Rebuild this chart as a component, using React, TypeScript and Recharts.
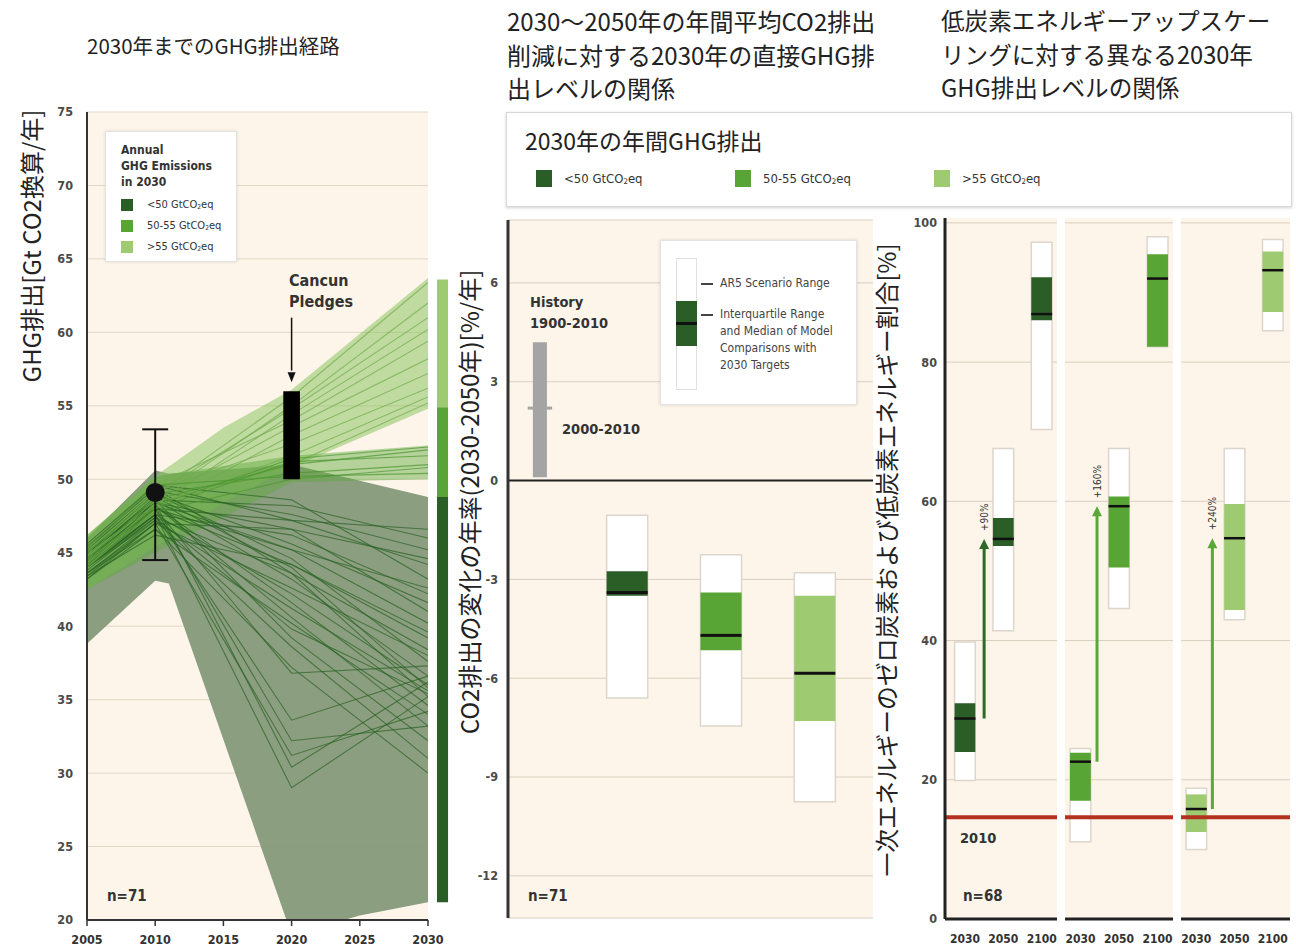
import React from 'react';
import {
  ComposedChart,
  Line,
  Area,
  Scatter,
  ErrorBar,
  XAxis,
  YAxis,
  CartesianGrid,
  ReferenceArea,
  ReferenceLine,
  ReferenceDot,
} from 'recharts';

const CJK = "'Noto Sans CJK JP', 'Noto Sans', sans-serif";
const NARROW = "'Liberation Sans Narrow', 'DejaVu Sans Condensed', 'Open Sans', sans-serif";

const DARK = '#2b5d27';
const MID = '#58a535';
const LIGHT = '#9ecb72';
const CREAM = '#fdf5ea';
const GRID = '#e2d7c5';
const TICK = { fontSize: 12.5, fill: '#4a4a4a', fontWeight: 700, fontFamily: NARROW };

// ---------- Left panel: GHG emission pathways to 2030 (Gt CO2eq / yr)
const pathYears = [2005, 2010, 2020, 2030];

const pathsBelow50 = [
  [44.6, 48.6, 48.2, 46.0],
  [45.2, 49.2, 47.6, 45.2],
  [44.0, 48.0, 47.2, 44.2],
  [45.6, 49.6, 48.6, 43.2],
  [44.2, 47.6, 46.2, 42.2],
  [43.6, 47.0, 46.6, 41.0],
  [45.0, 48.4, 45.2, 40.2],
  [44.6, 48.0, 44.2, 39.2],
  [44.0, 47.4, 43.6, 38.4],
  [43.2, 47.0, 42.6, 38.0],
  [45.0, 49.0, 44.6, 37.6],
  [44.6, 48.6, 43.2, 36.6],
  [44.0, 47.6, 42.2, 36.0],
  [43.6, 47.2, 41.2, 35.6],
  [45.4, 49.4, 43.6, 35.2],
  [44.2, 48.2, 41.6, 34.6],
  [43.2, 46.6, 40.2, 34.0],
  [44.6, 48.2, 40.6, 33.2],
  [45.0, 48.6, 39.2, 32.2],
  [44.0, 47.2, 38.6, 31.0],
  [43.6, 46.6, 37.2, 30.0],
  [44.6, 48.0, 36.8, 37.3],
  [44.0, 47.6, 29.0, 35.2],
  [45.0, 48.4, 30.4, 36.2],
  [43.4, 47.0, 31.2, 34.2],
  [44.4, 48.0, 32.2, 33.2],
  [44.0, 47.6, 33.6, 36.6],
  [45.0, 49.0, 45.6, 41.6],
  [44.4, 48.4, 46.6, 44.6],
  [43.4, 46.2, 44.2, 39.6],
  [45.2, 49.6, 47.2, 46.6],
  [44.0, 48.0, 45.2, 42.6],
  [44.8, 48.8, 44.0, 35.8],
  [43.8, 47.4, 39.8, 35.4],
];

const paths50to55 = [
  [44.6, 48.6, 51.0, 52.0],
  [45.0, 49.0, 50.4, 51.0],
  [44.2, 48.2, 51.4, 52.2],
  [45.4, 49.6, 50.2, 50.4],
  [44.6, 48.0, 51.2, 51.6],
  [44.0, 47.8, 50.0, 50.8],
];

const pathsAbove55 = [
  [45.0, 49.0, 55.6, 63.4],
  [44.6, 48.6, 55.0, 62.0],
  [44.2, 48.2, 54.4, 60.2],
  [45.2, 49.6, 54.0, 59.4],
  [44.6, 48.6, 53.6, 58.2],
  [44.0, 48.0, 53.0, 57.2],
  [45.0, 49.2, 52.4, 56.2],
  [44.4, 48.2, 51.6, 55.6],
  [44.0, 48.4, 51.0, 55.2],
  [44.8, 49.0, 54.8, 61.0],
];

// [year, low, high] of each scenario envelope
const envelopeBelow50 = [
  [2005, 38.8, 46.0],
  [2010, 43.1, 50.6],
  [2011, 42.9, 50.4],
  [2020, 19.0, 51.0],
  [2025, 20.3, 49.9],
  [2030, 21.2, 48.8],
];
const envelope50to55 = [
  [2005, 42.5, 46.2],
  [2010, 45.0, 50.2],
  [2020, 49.8, 51.6],
  [2030, 50.0, 52.3],
];
const envelopeAbove55 = [
  [2005, 42.5, 46.2],
  [2010, 45.4, 50.2],
  [2015, 48.4, 53.5],
  [2020, 50.8, 56.1],
  [2030, 54.8, 63.7],
];

const emissions2010 = { year: 2010, value: 49.1, low: 44.5, high: 53.4 };
const cancunPledges = { year: 2020, low: 50, high: 56 };
const classes2030 = [
  { low: 54.9, high: 63.6, colour: LIGHT },
  { low: 48.8, high: 54.9, colour: MID },
  { low: 21.2, high: 48.8, colour: DARK },
];

const legendClasses = [
  { label: '<50', colour: DARK },
  { label: '50-55', colour: MID },
  { label: '>55', colour: LIGHT },
];

// ---------- Middle panel: annual CO2 change rate 2030-2050 (%/yr)
const rateBoxes = [
  { min: -6.6, q1: -3.5, median: -3.4, q3: -2.75, max: -1.05 },
  { min: -7.45, q1: -5.15, median: -4.7, q3: -3.4, max: -2.25 },
  { min: -9.75, q1: -7.3, median: -5.85, q3: -3.5, max: -2.8 },
];
const historicalRate = { low: 0.1, high: 4.2, recent: 2.2 };

// ---------- Right panel: low-carbon share of primary energy (%)
const horizons = ['2030', '2050', '2100'];
const sharesBelow50 = [
  { min: 19.9, q1: 24.0, median: 28.8, q3: 31.0, max: 39.8 },
  { min: 41.4, q1: 53.6, median: 54.6, q3: 57.6, max: 67.6 },
  { min: 70.3, q1: 86.0, median: 86.9, q3: 92.2, max: 97.2 },
];
const shares50to55 = [
  { min: 11.1, q1: 17.0, median: 22.6, q3: 23.9, max: 24.5 },
  { min: 44.6, q1: 50.5, median: 59.3, q3: 60.7, max: 67.6 },
  { min: 82.2, q1: 82.2, median: 92.0, q3: 95.5, max: 98.0 },
];
const sharesAbove55 = [
  { min: 10.0, q1: 12.5, median: 15.8, q3: 17.9, max: 18.8 },
  { min: 43.0, q1: 44.4, median: 54.7, q3: 59.6, max: 67.6 },
  { min: 84.5, q1: 87.2, median: 93.2, q3: 95.9, max: 97.6 },
];
const shareChanges = ['+90%', '+160%', '+240%'];
const share2010 = 14.6;

// ---------- helpers
const envelopeRows = (env: number[][]) =>
  env.map(([year, low, high]) => ({ year, range: [low, high] }));
const pathRows = (values: number[]) =>
  values.map((value, i) => ({ year: pathYears[i], value }));

const medianShape = (width: number, thickness: number) => (props: any) => (
  <rect
    x={props.cx - width / 2}
    y={props.cy - thickness / 2}
    width={width}
    height={thickness}
    fill="#111"
  />
);

const GtCO2 = ({ label }: { label: string }) => (
  <span>
    {label} GtCO
    <sub style={{ fontSize: '0.6em', verticalAlign: '-0.15em' }}>2</sub>
    eq
  </span>
);

function PathwayChart() {
  const point = [
    {
      year: emissions2010.year,
      value: emissions2010.value,
      err: [emissions2010.value - emissions2010.low, emissions2010.high - emissions2010.value],
    },
  ];
  return (
    <ComposedChart width={460} height={951} margin={{ top: 112, right: 32, bottom: 0, left: 27 }}>
      <CartesianGrid vertical={false} stroke={GRID} fill={CREAM} fillOpacity={1} />
      <XAxis
        type="number"
        dataKey="year"
        domain={[2005, 2030]}
        ticks={[2005, 2010, 2015, 2020, 2025, 2030]}
        allowDataOverflow
        height={31}
        axisLine={{ stroke: '#333', strokeWidth: 2 }}
        tickLine={{ stroke: '#333', strokeWidth: 1.5 }}
        tickSize={6}
        tickMargin={9}
        tick={{ ...TICK, fill: '#333' }}
      />
      <YAxis
        type="number"
        domain={[20, 75]}
        ticks={[20, 25, 30, 35, 40, 45, 50, 55, 60, 65, 70, 75]}
        allowDataOverflow
        width={60}
        axisLine={{ stroke: '#333', strokeWidth: 2 }}
        tickLine={false}
        tickSize={0}
        tickMargin={14}
        tick={TICK}
      />
      <Area data={envelopeRows(envelopeBelow50)} dataKey="range" type="linear" stroke="none"
        fill="#86997a" fillOpacity={0.95} isAnimationActive={false} />
      <Area data={envelopeRows(envelopeAbove55)} dataKey="range" type="linear" stroke="none"
        fill="#8dc460" fillOpacity={0.55} isAnimationActive={false} />
      <Area data={envelopeRows(envelope50to55)} dataKey="range" type="linear" stroke="none"
        fill="#5aa83a" fillOpacity={0.45} isAnimationActive={false} />
      {pathsBelow50.map((p, i) => (
        <Line key={`b${i}`} data={pathRows(p)} dataKey="value" type="linear" stroke="#2a6324"
          strokeOpacity={0.7} strokeWidth={1.1} dot={false} activeDot={false} isAnimationActive={false} />
      ))}
      {pathsAbove55.map((p, i) => (
        <Line key={`a${i}`} data={pathRows(p)} dataKey="value" type="linear" stroke="#72aa4e"
          strokeOpacity={0.7} strokeWidth={1.1} dot={false} activeDot={false} isAnimationActive={false} />
      ))}
      {paths50to55.map((p, i) => (
        <Line key={`m${i}`} data={pathRows(p)} dataKey="value" type="linear" stroke="#4a962e"
          strokeOpacity={0.7} strokeWidth={1.1} dot={false} activeDot={false} isAnimationActive={false} />
      ))}
      <ReferenceArea
        x1={cancunPledges.year - 0.61}
        x2={cancunPledges.year + 0.61}
        y1={cancunPledges.low}
        y2={cancunPledges.high}
        fill="#000"
        fillOpacity={1}
        stroke="none"
        zIndex={700}
      />
      <ReferenceLine
        segment={[{ x: cancunPledges.year, y: 61 }, { x: cancunPledges.year, y: 57.4 }]}
        stroke="#111"
        strokeWidth={1.5}
      />
      <ReferenceDot
        x={cancunPledges.year}
        y={cancunPledges.high + 0.6}
        r={4}
        shape={(p: any) => (
          <polygon points={`${p.cx},${p.cy} ${p.cx - 4},${p.cy - 10} ${p.cx + 4},${p.cy - 10}`} fill="#111" />
        )}
      />
      <Scatter data={point} dataKey="value" isAnimationActive={false}
        shape={(p: any) => <circle cx={p.cx} cy={p.cy} r={9.5} fill="#111" />}>
        <ErrorBar dataKey="err" direction="y" width={13} stroke="#111" strokeWidth={2} />
      </Scatter>
      {classes2030.map((c, i) => (
        <ReferenceArea key={i} x1={2030.66} x2={2031.47} y1={c.low} y2={c.high}
          fill={c.colour} fillOpacity={1} stroke="none" ifOverflow="visible" />
      ))}
    </ComposedChart>
  );
}

const HISTORY_X = 0.07;

function RateChart() {
  const medians = rateBoxes.map((b, i) => ({ pos: i + 1, median: b.median }));
  return (
    <ComposedChart width={423} height={951} margin={{ top: 220, right: 0, bottom: 33, left: 0 }}>
      <CartesianGrid vertical={false} stroke="#d9cfbf" fill={CREAM} fillOpacity={1} />
      <XAxis type="number" dataKey="pos" domain={[-0.27, 3.62]} hide allowDataOverflow />
      <YAxis
        type="number"
        domain={[-13.28, 7.91]}
        ticks={[-12, -9, -6, -3, 0, 3, 6]}
        allowDataOverflow
        width={58}
        axisLine={{ stroke: '#333', strokeWidth: 3 }}
        tickLine={false}
        tickSize={0}
        tickMargin={10}
        tick={TICK}
      />
      <ReferenceLine y={0} stroke="#222" strokeWidth={2} />
      <ReferenceArea x1={HISTORY_X - 0.075} x2={HISTORY_X + 0.075} y1={historicalRate.low}
        y2={historicalRate.high} fill="#a4a4a4" fillOpacity={1} stroke="none" />
      <ReferenceLine
        segment={[
          { x: HISTORY_X - 0.13, y: historicalRate.recent },
          { x: HISTORY_X + 0.13, y: historicalRate.recent },
        ]}
        stroke="#a4a4a4"
        strokeWidth={3}
      />
      {rateBoxes.map((b, i) => (
        <ReferenceArea key={`r${i}`} x1={i + 1 - 0.219} x2={i + 1 + 0.219} y1={b.min} y2={b.max}
          fill="#fff" fillOpacity={1} stroke="#ddd6cc" strokeWidth={1.5} />
      ))}
      {rateBoxes.map((b, i) => (
        <ReferenceArea key={`q${i}`} x1={i + 1 - 0.219} x2={i + 1 + 0.219} y1={b.q1} y2={b.q3}
          fill={legendClasses[i].colour} fillOpacity={1} stroke="none" />
      ))}
      <Scatter data={medians} dataKey="median" isAnimationActive={false} shape={medianShape(41, 3)} />
    </ComposedChart>
  );
}

const shareGroups = [
  { boxes: sharesBelow50, colour: DARK, arrow: '#2d6a27' },
  { boxes: shares50to55, colour: MID, arrow: '#5aa83a' },
  { boxes: sharesAbove55, colour: LIGHT, arrow: '#5aa83a' },
];
const panelLayout = [
  { left: 895, width: 162, domain: [-0.52, 2.4], arrowX: 0.5, axis: true },
  { left: 1065, width: 108, domain: [-0.4, 2.4], arrowX: 0.43, axis: false },
  { left: 1181, width: 109, domain: [-0.4, 2.45], arrowX: 0.42, axis: false },
];

function SharePanel({ index }: { index: number }) {
  const group = shareGroups[index];
  const layout = panelLayout[index];
  const medians = group.boxes.map((b, i) => ({ pos: i, median: b.median }));
  const base = group.boxes[0].median;
  const tip = group.boxes[1].median;
  const hw = 0.27;
  return (
    <ComposedChart width={layout.width} height={951} margin={{ top: 218, right: 0, bottom: 2, left: 0 }}>
      <CartesianGrid vertical={false} stroke="#d9cfbf" fill={CREAM} fillOpacity={1}
        horizontalValues={[20, 40, 60, 80, 100]} />
      <XAxis
        type="number"
        dataKey="pos"
        domain={layout.domain}
        ticks={[0, 1, 2]}
        tickFormatter={(v: number) => horizons[v]}
        allowDataOverflow
        height={30}
        axisLine={{ stroke: '#222', strokeWidth: 3 }}
        tickLine={false}
        tickSize={0}
        tickMargin={15}
        tick={{ ...TICK, fontSize: 12, fill: '#333' }}
        interval={0}
      />
      <YAxis
        type="number"
        domain={[0, 100.7]}
        ticks={[0, 20, 40, 60, 80, 100]}
        allowDataOverflow
        hide={!layout.axis}
        width={50}
        axisLine={{ stroke: '#222', strokeWidth: 3 }}
        tickLine={false}
        tickSize={0}
        tickMargin={8}
        tick={TICK}
      />
      {group.boxes.map((b, i) => (
        <ReferenceArea key={`r${i}`} x1={i - hw} x2={i + hw} y1={b.min} y2={b.max}
          fill="#fff" fillOpacity={1} stroke="#ddd6cc" strokeWidth={1.5} />
      ))}
      {group.boxes.map((b, i) => (
        <ReferenceArea key={`q${i}`} x1={i - hw} x2={i + hw} y1={b.q1} y2={b.q3}
          fill={group.colour} fillOpacity={1} stroke="none" />
      ))}
      <ReferenceLine y={share2010} stroke="#b3321f" strokeWidth={4} />
      <ReferenceLine
        segment={[{ x: layout.arrowX, y: base }, { x: layout.arrowX, y: tip - 1.2 }]}
        stroke={group.arrow}
        strokeWidth={3}
      />
      <ReferenceDot
        x={layout.arrowX}
        y={tip}
        r={5}
        shape={(p: any) => (
          <g>
            <polygon points={`${p.cx},${p.cy} ${p.cx - 5},${p.cy + 10} ${p.cx + 5},${p.cy + 10}`} fill={group.arrow} />
            <text
              x={p.cx + 4}
              y={p.cy - 8}
              transform={`rotate(-90 ${p.cx + 4} ${p.cy - 8})`}
              fontSize={10}
              fontFamily={NARROW}
              fill="#333"
            >
              {shareChanges[index]}
            </text>
          </g>
        )}
      />
      <Scatter data={medians} dataKey="median" isAnimationActive={false} shape={medianShape(21, 2.5)} />
    </ComposedChart>
  );
}

const abs = (left: number, top: number, extra: React.CSSProperties = {}): React.CSSProperties => ({
  position: 'absolute',
  left,
  top,
  ...extra,
});

function VLabel({ x, y, size, children }: { x: number; y: number; size: number; children: React.ReactNode }) {
  return (
    <div
      style={abs(x, y, {
        transform: 'translate(-50%, -50%) rotate(-90deg)',
        whiteSpace: 'nowrap',
        fontSize: size,
        fontFamily: CJK,
        color: '#222',
        lineHeight: 1,
      })}
    >
      {children}
    </div>
  );
}

const bold = (size: number): React.CSSProperties => ({
  fontFamily: NARROW,
  fontWeight: 700,
  fontSize: size,
  color: '#333',
  whiteSpace: 'nowrap',
});

export default function App() {
  return (
    <div
      style={{
        position: 'absolute',
        left: 0,
        top: 0,
        width: 1296,
        height: 951,
        background: '#fff',
        overflow: 'hidden',
        fontFamily: CJK,
      }}
    >
      <div style={abs(0, 0)}>
        <PathwayChart />
      </div>
      <div style={abs(450, 0)}>
        <RateChart />
      </div>
      {panelLayout.map((l, i) => (
        <div key={i} style={abs(l.left, 0)}>
          <SharePanel index={i} />
        </div>
      ))}

      {/* titles */}
      <div style={abs(87, 31, { fontSize: 20.5, lineHeight: '28px', color: '#222', whiteSpace: 'nowrap' })}>
        2030年までのGHG排出経路
      </div>
      <div style={abs(507, 4, { fontSize: 24, lineHeight: '33.5px', color: '#222', whiteSpace: 'nowrap' })}>
        2030〜2050年の年間平均CO2排出
        <br />
        削減に対する2030年の直接GHG排
        <br />
        出レベルの関係
      </div>
      <div style={abs(941, 4, { fontSize: 23.6, lineHeight: '33.5px', color: '#222', whiteSpace: 'nowrap' })}>
        低炭素エネルギーアップスケー
        <br />
        リングに対する異なる2030年
        <br />
        GHG排出レベルの関係
      </div>

      {/* axis titles */}
      <VLabel x={31} y={246} size={24}>GHG排出[Gt CO2換算/年]</VLabel>
      <VLabel x={469} y={502} size={24}>CO2排出の変化の年率(2030-2050年)[%/年]</VLabel>
      <VLabel x={886} y={560} size={23.8}>一次エネルギーのゼロ炭素および低炭素エネルギー割合[%]</VLabel>

      {/* left legend */}
      <div
        style={abs(105, 131, {
          width: 132,
          height: 131,
          background: '#fff',
          border: '1px solid #e3e3e3',
          boxShadow: '0 0 3px rgba(0,0,0,0.12)',
          boxSizing: 'border-box',
        })}
      >
        <div style={abs(15, 10, { ...bold(12), lineHeight: '16px' })}>
          Annual
          <br />
          GHG Emissions
          <br />
          in 2030
        </div>
        {legendClasses.map((c, i) => (
          <React.Fragment key={i}>
            <div style={abs(15, 67 + i * 21, { width: 12, height: 12, background: c.colour })} />
            <div style={abs(41, 65 + i * 21, { fontFamily: NARROW, fontSize: 11, color: '#333', lineHeight: '16px', whiteSpace: 'nowrap' })}>
              <GtCO2 label={c.label} />
            </div>
          </React.Fragment>
        ))}
      </div>

      {/* left annotations */}
      <div style={abs(289, 270, { ...bold(16), lineHeight: '21px' })}>
        Cancun
        <br />
        Pledges
      </div>
      <div style={abs(107, 887, bold(15))}>n=71</div>

      {/* shared class legend */}
      <div
        style={abs(506, 112, {
          width: 786,
          height: 95,
          background: '#fff',
          border: '1px solid #d8d8d8',
          boxShadow: '0 1px 3px rgba(0,0,0,0.18)',
          boxSizing: 'border-box',
        })}
      >
        <div style={abs(18, 10, { fontSize: 23, lineHeight: '34px', color: '#222', whiteSpace: 'nowrap' })}>
          2030年の年間GHG排出
        </div>
        {legendClasses.map((c, i) => (
          <React.Fragment key={i}>
            <div style={abs(29 + i * 199, 57, { width: 16, height: 17, background: c.colour })} />
            <div style={abs(57 + i * 199, 57, { fontFamily: NARROW, fontSize: 13, color: '#333', lineHeight: '18px', whiteSpace: 'nowrap' })}>
              <GtCO2 label={c.label} />
            </div>
          </React.Fragment>
        ))}
      </div>

      {/* middle annotations */}
      <div style={abs(530, 292, { ...bold(14.5), lineHeight: '21px' })}>
        History
        <br />
        1900-2010
      </div>
      <div style={abs(562, 421, bold(14.5))}>2000-2010</div>
      <div style={abs(528, 887, bold(15))}>n=71</div>

      {/* box legend */}
      <div
        style={abs(660, 240, {
          width: 197,
          height: 165,
          background: '#fff',
          border: '1px solid #e3e3e3',
          boxShadow: '0 0 3px rgba(0,0,0,0.15)',
          boxSizing: 'border-box',
        })}
      >
        <div style={abs(15, 17, { width: 21, height: 132, background: '#fff', border: '1px solid #e0e0e0', boxSizing: 'border-box' })} />
        <div style={abs(15, 60, { width: 21, height: 45, background: DARK })} />
        <div style={abs(15, 81, { width: 21, height: 3, background: '#111' })} />
        <div style={abs(40, 42, { width: 12, height: 2, background: '#444' })} />
        <div style={abs(40, 73, { width: 12, height: 2, background: '#444' })} />
        <div style={abs(59, 34, { fontFamily: NARROW, fontSize: 12, color: '#444', lineHeight: '17px', whiteSpace: 'nowrap' })}>
          AR5 Scenario Range
        </div>
        <div style={abs(59, 65, { fontFamily: NARROW, fontSize: 12, color: '#444', lineHeight: '17px', whiteSpace: 'nowrap' })}>
          Interquartile Range
          <br />
          and Median of Model
          <br />
          Comparisons with
          <br />
          2030 Targets
        </div>
      </div>

      {/* right annotations */}
      <div style={abs(960, 830, bold(14.5))}>2010</div>
      <div style={abs(963, 887, bold(15))}>n=68</div>
    </div>
  );
}
